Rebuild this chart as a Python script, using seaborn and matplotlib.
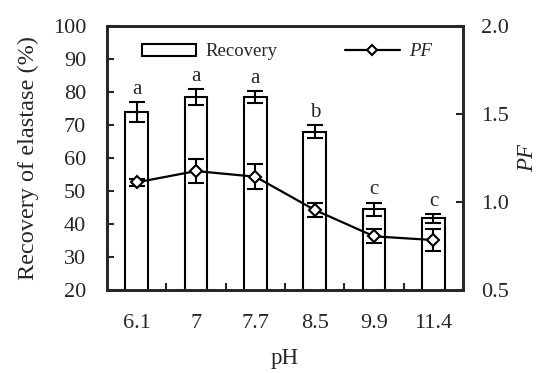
import numpy as np
import pandas as pd
import matplotlib
matplotlib.use("Agg")
import matplotlib.pyplot as plt
import seaborn as sns
from matplotlib.patches import Patch
from matplotlib.lines import Line2D
from matplotlib.ticker import FixedLocator, MultipleLocator, FormatStrFormatter

ph_labels = ["6.1", "7", "7.7", "8.5", "9.9", "11.4"]
recovery = [74.0, 78.5, 78.5, 68.0, 44.5, 41.7]
recovery_err = [3.0, 2.3, 1.7, 2.0, 2.0, 1.3]
pf = [1.112, 1.176, 1.144, 0.955, 0.805, 0.784]
pf_err = [0.02, 0.066, 0.07, 0.04, 0.04, 0.06]
letters = ["a", "a", "a", "b", "c", "c"]

sns.set_style("ticks")
plt.rcParams['font.family'] = ['Liberation Serif', 'DejaVu Serif']

fig = plt.figure(figsize=(5.43, 3.73), dpi=100)
ax = fig.add_axes([0.197, 0.2225, 0.656, 0.7075])

df = pd.DataFrame({"pH": ph_labels, "Recovery": recovery})
sns.barplot(data=df, x="pH", y="Recovery", order=ph_labels, ax=ax,
            color="white", edgecolor="black", linewidth=1.5, width=0.38, errorbar=None)
xs = np.arange(len(ph_labels))
ax.errorbar(xs, recovery, yerr=recovery_err, fmt="none", ecolor="black",
            elinewidth=1.5, capsize=5.5, capthick=1.5)
for x, y, e, t in zip(xs, recovery, recovery_err, letters):
    ax.text(x, y + e + 1.0, t, ha="center", va="bottom", fontsize=15)

ax.set_ylim(20, 100)
ax.set_xlim(-0.5, 5.5)
ax.yaxis.set_major_locator(MultipleLocator(10))
ax.set_ylabel("Recovery of elastase (%)", fontsize=17.5, labelpad=10)
ax.set_xlabel("pH", fontsize=16.5, labelpad=11)
ax.tick_params(axis="y", direction="in", length=5, width=1.5, labelsize=16, pad=15)
ax.tick_params(axis="x", which="major", length=0, labelsize=16, pad=17)
ax.xaxis.set_minor_locator(FixedLocator(np.arange(0.5, 5.5, 1.0)))
ax.tick_params(axis="x", which="minor", direction="in", length=5, width=1.5)

ax2 = ax.twinx()
ax2.errorbar(xs, pf, yerr=pf_err, fmt="none", ecolor="black",
             elinewidth=1.5, capsize=5.5, capthick=1.5, zorder=2)
sns.lineplot(x=xs, y=pf, ax=ax2, color="black", linewidth=1.6, marker="D",
             markersize=6, markerfacecolor="white", markeredgecolor="black",
             markeredgewidth=1.5, zorder=3)
ax2.set_ylim(0.5, 2.0)
ax2.yaxis.set_major_locator(MultipleLocator(0.5))
ax2.yaxis.set_major_formatter(FormatStrFormatter("%.1f"))
ax2.set_ylabel("PF", fontsize=16.5, style="italic", labelpad=6)
ax2.tick_params(axis="y", direction="in", length=5, width=1.5, labelsize=16, pad=13)
ax2.set_xlim(-0.5, 5.5)

for a in (ax, ax2):
    for s in a.spines.values():
        s.set_linewidth(2.0)
        s.set_visible(True)

handles = [Patch(facecolor="white", edgecolor="black", linewidth=1.5),
           Line2D([0], [0], color="black", linewidth=1.6, marker="D", markersize=5,
                  markerfacecolor="white", markeredgecolor="black", markeredgewidth=1.5)]
leg = ax.legend(handles, ["Recovery", "PF"], ncol=2, frameon=False,
                loc="upper left", bbox_to_anchor=(0.098, 0.935), borderaxespad=0,
                borderpad=0, handlelength=2.9, handleheight=0.6,
                columnspacing=3.6, fontsize=13.5, handletextpad=0.5)
leg.get_texts()[1].set_style("italic")

fig.savefig("out.png", dpi=100)
